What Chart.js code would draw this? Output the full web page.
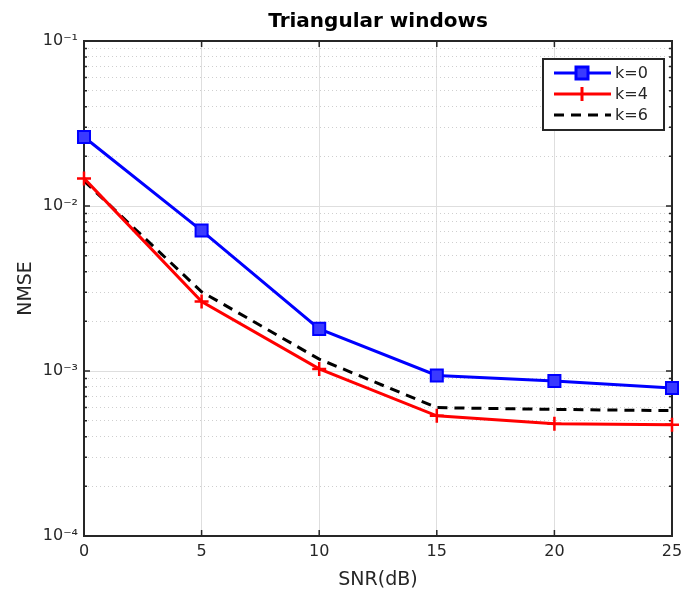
<!DOCTYPE html>
<html>
<head>
<meta charset="utf-8">
<script src="https://cdn.jsdelivr.net/npm/chart.js@4"></script>
<style>
  html, body { margin: 0; padding: 0; background: #fff; }
  #wrap { width: 684px; height: 592px; }
</style>
</head>
<body>
<div id="wrap"><canvas id="chart" width="684" height="592"></canvas></div>
<script>
// x axis values (SNR in dB)
const snr = [0, 5, 10, 15, 20, 25];

// NMSE per window length
const nmseK0 = [0.0262, 0.0071, 0.0018, 0.00094, 0.00087, 0.00079];
const nmseK4 = [0.0147, 0.00264, 0.00103, 0.000535, 0.000479, 0.000473];
const nmseK6 = [0.0142, 0.00302, 0.00118, 0.0006, 0.000585, 0.000575];

const seriesLabels = ['k=0', 'k=4', 'k=6'];
const xTicks = [0, 5, 10, 15, 20, 25];
const yDecades = [-4, -3, -2, -1];

const sup = { '-': '\u207B', '1': '\u00B9', '2': '\u00B2', '3': '\u00B3', '4': '\u2074' };
const decadeLabel = (p) => '10' + String(p).split('').map(c => sup[c]).join('');
const isDecade = (v) => Math.abs(Math.log10(v) - Math.round(Math.log10(v))) < 1e-9;

const textColor = '#262626';
const axisFont = 'DejaVu Sans';

// box, inner tick marks (matlab style)
const boxPlugin = {
    id: 'box',
    beforeDatasetsDraw(chart) {
        const { ctx, chartArea: a, scales } = chart;
        ctx.save();
        ctx.strokeStyle = textColor;
        ctx.lineWidth = 1.5;
        ctx.beginPath();
        scales.x.ticks.forEach(t => {
            const px = scales.x.getPixelForValue(t.value);
            ctx.moveTo(px, a.bottom); ctx.lineTo(px, a.bottom - 6);
            ctx.moveTo(px, a.top); ctx.lineTo(px, a.top + 6);
        });
        scales.y.ticks.forEach(t => {
            const py = scales.y.getPixelForValue(t.value);
            const len = isDecade(t.value) ? 6 : 3;
            ctx.moveTo(a.left, py); ctx.lineTo(a.left + len, py);
            ctx.moveTo(a.right, py); ctx.lineTo(a.right - len, py);
        });
        ctx.stroke();
        ctx.lineWidth = 2;
        ctx.strokeRect(a.left, a.top, a.right - a.left, a.bottom - a.top);
        ctx.restore();
    }
};

// legend box in the upper right corner
const legendPlugin = {
    id: 'boxLegend',
    afterDraw(chart) {
        const { ctx, chartArea: a } = chart;
        const w = 121, h = 71;
        const left = a.right - 8 - w, top = a.top + 18;
        ctx.save();
        ctx.fillStyle = '#fff';
        ctx.fillRect(left, top, w, h);
        ctx.strokeStyle = textColor;
        ctx.lineWidth = 2;
        ctx.strokeRect(left, top, w, h);
        chart.data.datasets.forEach((ds, i) => {
            const y = top + 14 + i * 21;
            ctx.strokeStyle = ds.borderColor;
            ctx.lineWidth = 3;
            ctx.setLineDash(ds.borderDash || []);
            ctx.beginPath();
            ctx.moveTo(left + 11, y);
            ctx.lineTo(left + 68, y);
            ctx.stroke();
            ctx.setLineDash([]);
            const cx = left + 39;
            if (ds.pointStyle === 'rect') {
                ctx.fillStyle = ds.pointBackgroundColor;
                ctx.fillRect(cx - 6, y - 6, 12, 12);
                ctx.strokeRect(cx - 6, y - 6, 12, 12);
            } else if (ds.pointStyle === 'cross') {
                ctx.beginPath();
                ctx.moveTo(cx, y - 7); ctx.lineTo(cx, y + 7);
                ctx.stroke();
            }
            ctx.fillStyle = textColor;
            ctx.font = '16px "' + axisFont + '"';
            ctx.textBaseline = 'middle';
            ctx.fillText(ds.label, left + 72, y + 1);
        });
        ctx.restore();
    }
};

const toPoints = (ys) => snr.map((x, i) => ({ x: x, y: ys[i] }));

new Chart(document.getElementById('chart'), {
    type: 'line',
    data: {
        datasets: [
            {
                label: seriesLabels[0],
                data: toPoints(nmseK0),
                borderColor: '#0000ff',
                borderWidth: 3,
                pointStyle: 'rect',
                pointRadius: 8.5,
                pointBorderWidth: 2,
                pointBackgroundColor: '#3a3aff',
                clip: false
            },
            {
                label: seriesLabels[1],
                data: toPoints(nmseK4),
                borderColor: '#ff0000',
                borderWidth: 3,
                pointStyle: 'cross',
                pointRadius: 7,
                pointBorderWidth: 2.5,
                clip: false
            },
            {
                label: seriesLabels[2],
                data: toPoints(nmseK6),
                borderColor: '#000000',
                borderWidth: 3,
                borderDash: [10, 7],
                pointRadius: 0,
                clip: false
            }
        ]
    },
    options: {
        responsive: false,
        animation: false,
        layout: { padding: { top: 0, right: 12, left: 0, bottom: 0 } },
        plugins: {
            legend: { display: false },
            tooltip: { enabled: false },
            title: {
                display: true,
                text: 'Triangular windows',
                fullSize: false,
                color: '#000',
                font: { family: axisFont, size: 20, weight: 'bold' },
                padding: { top: 10, bottom: 7 }
            }
        },
        scales: {
            x: {
                type: 'linear',
                min: 0,
                max: 25,
                afterBuildTicks: (s) => { s.ticks = xTicks.map(v => ({ value: v })); },
                afterFit: (s) => { s.height = 56; s.paddingRight = 0; },
                ticks: {
                    color: textColor,
                    font: { family: axisFont, size: 16 },
                    padding: 6
                },
                grid: { color: '#dedede', lineWidth: 1, drawTicks: false },
                border: { display: false },
                title: {
                    display: true,
                    text: 'SNR(dB)',
                    color: textColor,
                    font: { family: axisFont, size: 19 },
                    padding: { top: 0, bottom: 1 }
                }
            },
            y: {
                type: 'logarithmic',
                min: 1e-4,
                max: 1e-1,
                afterBuildTicks: (s) => {
                    const t = [];
                    yDecades.forEach(p => {
                        for (let m = 1; m <= 9; m++) {
                            const v = m * Math.pow(10, p);
                            if (v <= 0.1 + 1e-12) t.push({ value: v });
                            if (p === -1) break;
                        }
                    });
                    s.ticks = t;
                },
                afterFit: (s) => { s.width = 84; },
                ticks: {
                    color: textColor,
                    font: { family: axisFont, size: 16 },
                    padding: 6,
                    autoSkip: false,
                    callback: (v) => isDecade(v) ? decadeLabel(Math.round(Math.log10(v))) : ''
                },
                grid: {
                    drawTicks: false,
                    lineWidth: 1,
                    color: (c) => c.tick && isDecade(c.tick.value) ? '#dedede' : '#cfcfcf'
                },
                border: {
                    display: false,
                    dash: (c) => c.tick && isDecade(c.tick.value) ? [] : [1, 3]
                },
                title: {
                    display: true,
                    text: 'NMSE',
                    color: textColor,
                    font: { family: axisFont, size: 19 },
                    padding: { top: 15, bottom: 0 }
                }
            }
        }
    },
    plugins: [boxPlugin, legendPlugin]
});
</script>
</body>
</html>
